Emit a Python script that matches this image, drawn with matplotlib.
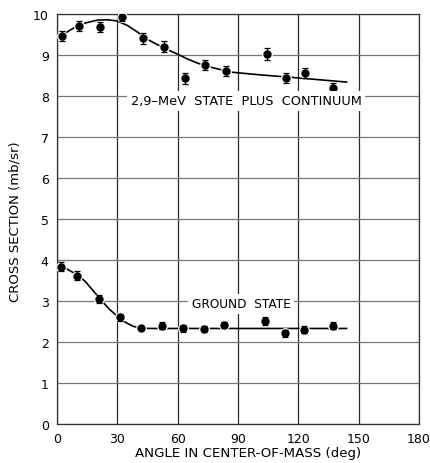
import matplotlib
matplotlib.use("Agg")
import matplotlib.pyplot as plt

# Data points: 2.9-MeV state plus continuum
upper_angle = [2.5, 11.0, 21.4, 32.3, 42.9, 53.2, 63.7, 73.6, 84.1, 104.3, 113.9, 123.4, 137.3]
upper_xs = [9.46, 9.71, 9.68, 9.93, 9.41, 9.20, 8.43, 8.76, 8.60, 9.02, 8.44, 8.56, 8.20]
upper_err = [0.13, 0.13, 0.12, 0.10, 0.13, 0.13, 0.13, 0.12, 0.12, 0.14, 0.12, 0.12, 0.12]

# Data points: ground state
ground_angle = [1.8, 10.1, 20.9, 31.3, 41.8, 52.4, 62.8, 73.3, 83.2, 103.3, 113.3, 122.9, 137.2]
ground_xs = [3.84, 3.62, 3.05, 2.60, 2.34, 2.40, 2.33, 2.32, 2.41, 2.51, 2.21, 2.30, 2.40]
ground_err = [0.10, 0.10, 0.10, 0.09, 0.05, 0.09, 0.09, 0.08, 0.08, 0.09, 0.08, 0.08, 0.09]

# Fitted curves
upper_curve_x = [2, 8, 14, 20, 25, 30, 35, 40, 45, 50, 55, 60, 65, 70, 75, 80, 87, 100, 120, 144]
upper_curve_y = [9.47, 9.65, 9.78, 9.85, 9.86, 9.83, 9.72, 9.56, 9.38, 9.25, 9.13, 9.02, 8.90,
                 8.80, 8.72, 8.66, 8.58, 8.52, 8.44, 8.34]
ground_curve_x = [1.5, 6, 10, 14, 18, 22, 26, 30, 34, 38, 42, 46, 144]
ground_curve_y = [3.88, 3.75, 3.64, 3.48, 3.25, 3.02, 2.80, 2.63, 2.48, 2.38, 2.34, 2.33, 2.33]

x_ticks = [0, 30, 60, 90, 120, 150, 180]
y_ticks = [0, 1, 2, 3, 4, 5, 6, 7, 8, 9, 10]

fig = plt.figure(figsize=(4.31, 4.64), dpi=100)
ax = fig.add_axes([57/431, 39/464, 362/431, 410/464])

ax.set_xlim(0, 180)
ax.set_ylim(0, 10)
ax.set_xticks(x_ticks)
ax.set_yticks(y_ticks)
ax.xaxis.grid(True, color="#2a2a2a", lw=0.9, zorder=0)
ax.yaxis.grid(True, color="#777777", lw=0.9, zorder=0)
ax.tick_params(length=0, labelsize=9, pad=6)
for s in ax.spines.values():
    s.set_color("#333333")
    s.set_linewidth(0.9)

for cx, cy in [(upper_curve_x, upper_curve_y), (ground_curve_x, ground_curve_y)]:
    ax.plot(cx, cy, color="black", lw=1.2, zorder=2)

for xa, ya, ea in [(upper_angle, upper_xs, upper_err), (ground_angle, ground_xs, ground_err)]:
    ax.plot(xa, ya, "o", color="black", ms=6, mec="white", mew=1.8, zorder=3)
    ax.errorbar(xa, ya, yerr=ea, fmt="o", color="black", ms=5, capsize=2, elinewidth=0.9,
                capthick=0.9, zorder=4)

ax.text(94, 7.88, "2,9\u2013MeV  STATE  PLUS  CONTINUUM", ha="center", va="center", fontsize=9.3,
        zorder=5, bbox=dict(facecolor="white", edgecolor="none", pad=2.5))
ax.text(91.5, 2.93, "GROUND  STATE", ha="center", va="center", fontsize=8.7,
        zorder=5, bbox=dict(facecolor="white", edgecolor="none", pad=2.5))

ax.set_xlabel("ANGLE IN CENTER-OF-MASS (deg)", fontsize=9.6)
ax.set_ylabel("CROSS SECTION (mb/sr)", fontsize=9.5)
ax.xaxis.set_label_coords(0.528, -0.054)
ax.yaxis.set_label_coords(-0.097, 0.495)

fig.savefig("out.png", dpi=100)
